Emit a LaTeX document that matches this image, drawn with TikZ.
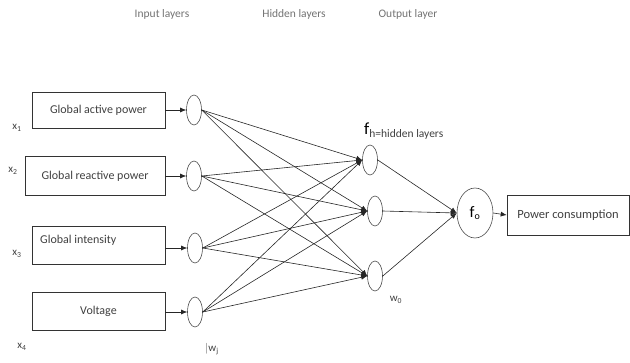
\documentclass[tikz,border=0pt]{standalone}
\usepackage{fontspec}
\setmainfont{Carlito}
\usetikzlibrary{shapes.geometric, arrows.meta}

\begin{document}
\begin{tikzpicture}[x=1pt, y=-1pt,
input_box/.style={rectangle, draw=black!80, semithick, minimum width=133pt, minimum height=36pt, inner sep=2pt, font=\fontsize{12}{14}\selectfont, text=black!75},
box_text/.style={inner sep=0pt, font=\fontsize{12}{14}\selectfont, text=black!75},
neuron/.style={ellipse, draw=black!70, semithick, minimum width=15pt, minimum height=30pt, inner sep=0pt},
big_neuron/.style={ellipse, draw=black!70, semithick, minimum width=36pt, minimum height=50pt, inner sep=0pt},
layer_text/.style={font=\fontsize{11.5}{13}\selectfont, text=black!55},
var_text/.style={font=\fontsize{11}{13}\selectfont, text=black!75},
out_arrow/.style={-{Latex[length=6pt,width=5pt]}, semithick, black!85}
]
\useasboundingbox (0,0) rectangle (630,362);

% layer titles
\node[layer_text](input_title) at (162,14) {Input layers};
\node[layer_text](hidden_title) at (294,14) {Hidden layers};
\node[layer_text](output_title) at (408,14) {Output layer};

% inputs
\node[input_box](active) at (98.5,110) {Global active power};
\node[input_box, minimum width=140pt, minimum height=39pt](reactive) at (95,176) {Global reactive power};
\node[input_box, minimum height=38pt](intensity) at (98.5,245) {};
\node[box_text, anchor=west](intensity_text) at (40,240) {Global intensity};
\node[input_box, minimum height=38pt](voltage) at (98.5,311) {Voltage};

\node[var_text](x_one) at (17,128) {x\textsubscript{1}};
\node[var_text](x_two) at (13,171) {x\textsubscript{2}};
\node[var_text](x_three) at (17,254) {x\textsubscript{3}};
\node[var_text](x_four) at (22,347) {x\textsubscript{4}};

\node[neuron](in_one) at (194,110) {};
\node[neuron](in_two) at (194,176) {};
\node[neuron](in_three) at (195,248) {};
\node[neuron](in_four) at (195,312) {};

% hidden and output
\node[neuron](hid_one) at (370,160) {};
\node[neuron](hid_two) at (375,211) {};
\node[neuron](hid_three) at (375,276) {};

\node[big_neuron, font=\fontsize{16}{16}\selectfont](out_neuron) at (475,213) {f\textsubscript{\fontsize{10}{10}\selectfont o}};
\node[input_box, minimum width=122pt, minimum height=40pt, font=\fontsize{12.5}{14}\selectfont](consumption) at (568,215) {Power consumption};

\node[anchor=west, inner sep=0pt](hid_label) at (364,131) {\fontsize{17}{17}\selectfont f\fontsize{11.5}{11.5}\selectfont\raisebox{-3pt}{\color{black!75}h=hidden layers}};
\node[var_text](w_zero) at (396,300) {w\textsubscript{0}};
\node[var_text](w_j) at (212,349) {$\vert$w\textsubscript{j}};

% connections
\draw[out_arrow](active.east |- in_one.west) -- (in_one.west);
\draw[out_arrow](reactive.east |- in_two.west) -- (in_two.west);
\draw[out_arrow](intensity.east |- in_three.west) -- (in_three.west);
\draw[out_arrow](voltage.east |- in_four.west) -- (in_four.west);

\foreach \i in {in_one, in_two, in_three, in_four}
  \foreach \h in {hid_one, hid_two, hid_three}
    \draw[out_arrow](\i.east) -- (\h.west);

\foreach \h in {hid_one, hid_two, hid_three}
  \draw[out_arrow](\h.east) -- (out_neuron.west);

\draw[out_arrow](out_neuron.east) -- (consumption.west);

\end{tikzpicture}
\end{document}
